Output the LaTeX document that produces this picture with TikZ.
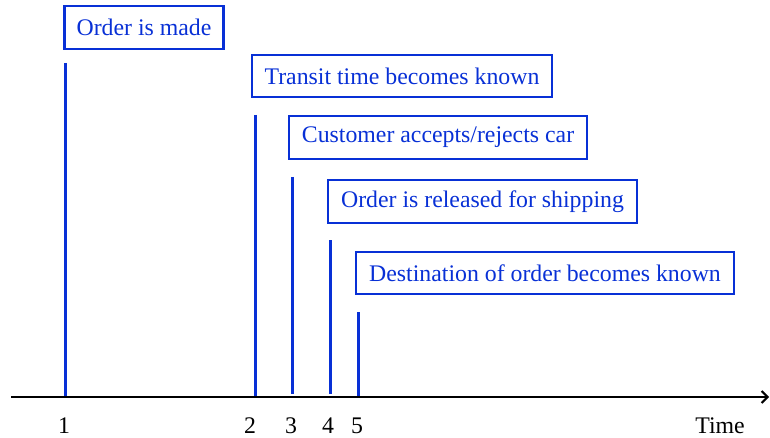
\documentclass[tikz,border=0pt]{standalone}
\usepackage{fontspec}
\setmainfont{Liberation Serif}
\usetikzlibrary{arrows.meta}
\definecolor{evblue}{RGB}{8,48,214}
\tikzset{
  evbox/.style={draw=evblue, line width=2.4pt, text=evblue, inner sep=0pt,
    minimum height=42pt, font=\fontsize{23.8}{28}\selectfont},
  tick/.style={draw=evblue, line width=3pt},
  axisline/.style={draw=black, line width=2.4pt, -{Straight Barb[length=6pt,width=12pt,line width=2pt]}},
  lbl/.style={text=black, inner sep=0pt, font=\fontsize{23.8}{28}\selectfont}
}
\begin{document}
\begin{tikzpicture}[x=1pt,y=-1pt]
\useasboundingbox (0,0) rectangle (770,438);
% event boxes
\node[evbox, minimum width=159pt, minimum height=43pt] (e1) at (144,27.5) {Order is made};
\node[evbox, minimum width=300pt] (e2) at (402,76) {Transit time becomes known};
\node[evbox, minimum width=298pt, minimum height=43pt] (e3) at (438,137.5) {Customer accepts/rejects car};
\node[evbox, minimum width=309pt, minimum height=43pt] (e4) at (482.5,201.5) {Order is released for shipping};
\node[evbox, minimum width=378pt] (e5) at (545,273) {Destination of order becomes known};
% axis
\coordinate (axs) at (11,397);
\coordinate (axe) at (769,397);
% tick tops and bottoms
\coordinate (t1) at (65,63);   \coordinate (b1) at (65,398);
\coordinate (t2) at (255,115); \coordinate (b2) at (255,396);
\coordinate (t3) at (292,177); \coordinate (b3) at (292,394);
\coordinate (t4) at (330,240); \coordinate (b4) at (330,394);
\coordinate (t5) at (358,312); \coordinate (b5) at (358,396);
\draw[tick] (t1) -- (b1);
\draw[tick] (t2) -- (b2);
\draw[tick] (t3) -- (b3);
\draw[tick] (t4) -- (b4);
\draw[tick] (t5) -- (b5);
\draw[axisline] (axs) -- (axe);
% labels
\node[lbl] (l1) at (64,426) {1};
\node[lbl] (l2) at (250,426) {2};
\node[lbl] (l3) at (291,426) {3};
\node[lbl] (l4) at (328,426) {4};
\node[lbl] (l5) at (357,426) {5};
\node[lbl] (lt) at (720,426) {Time};
\end{tikzpicture}
\end{document}
